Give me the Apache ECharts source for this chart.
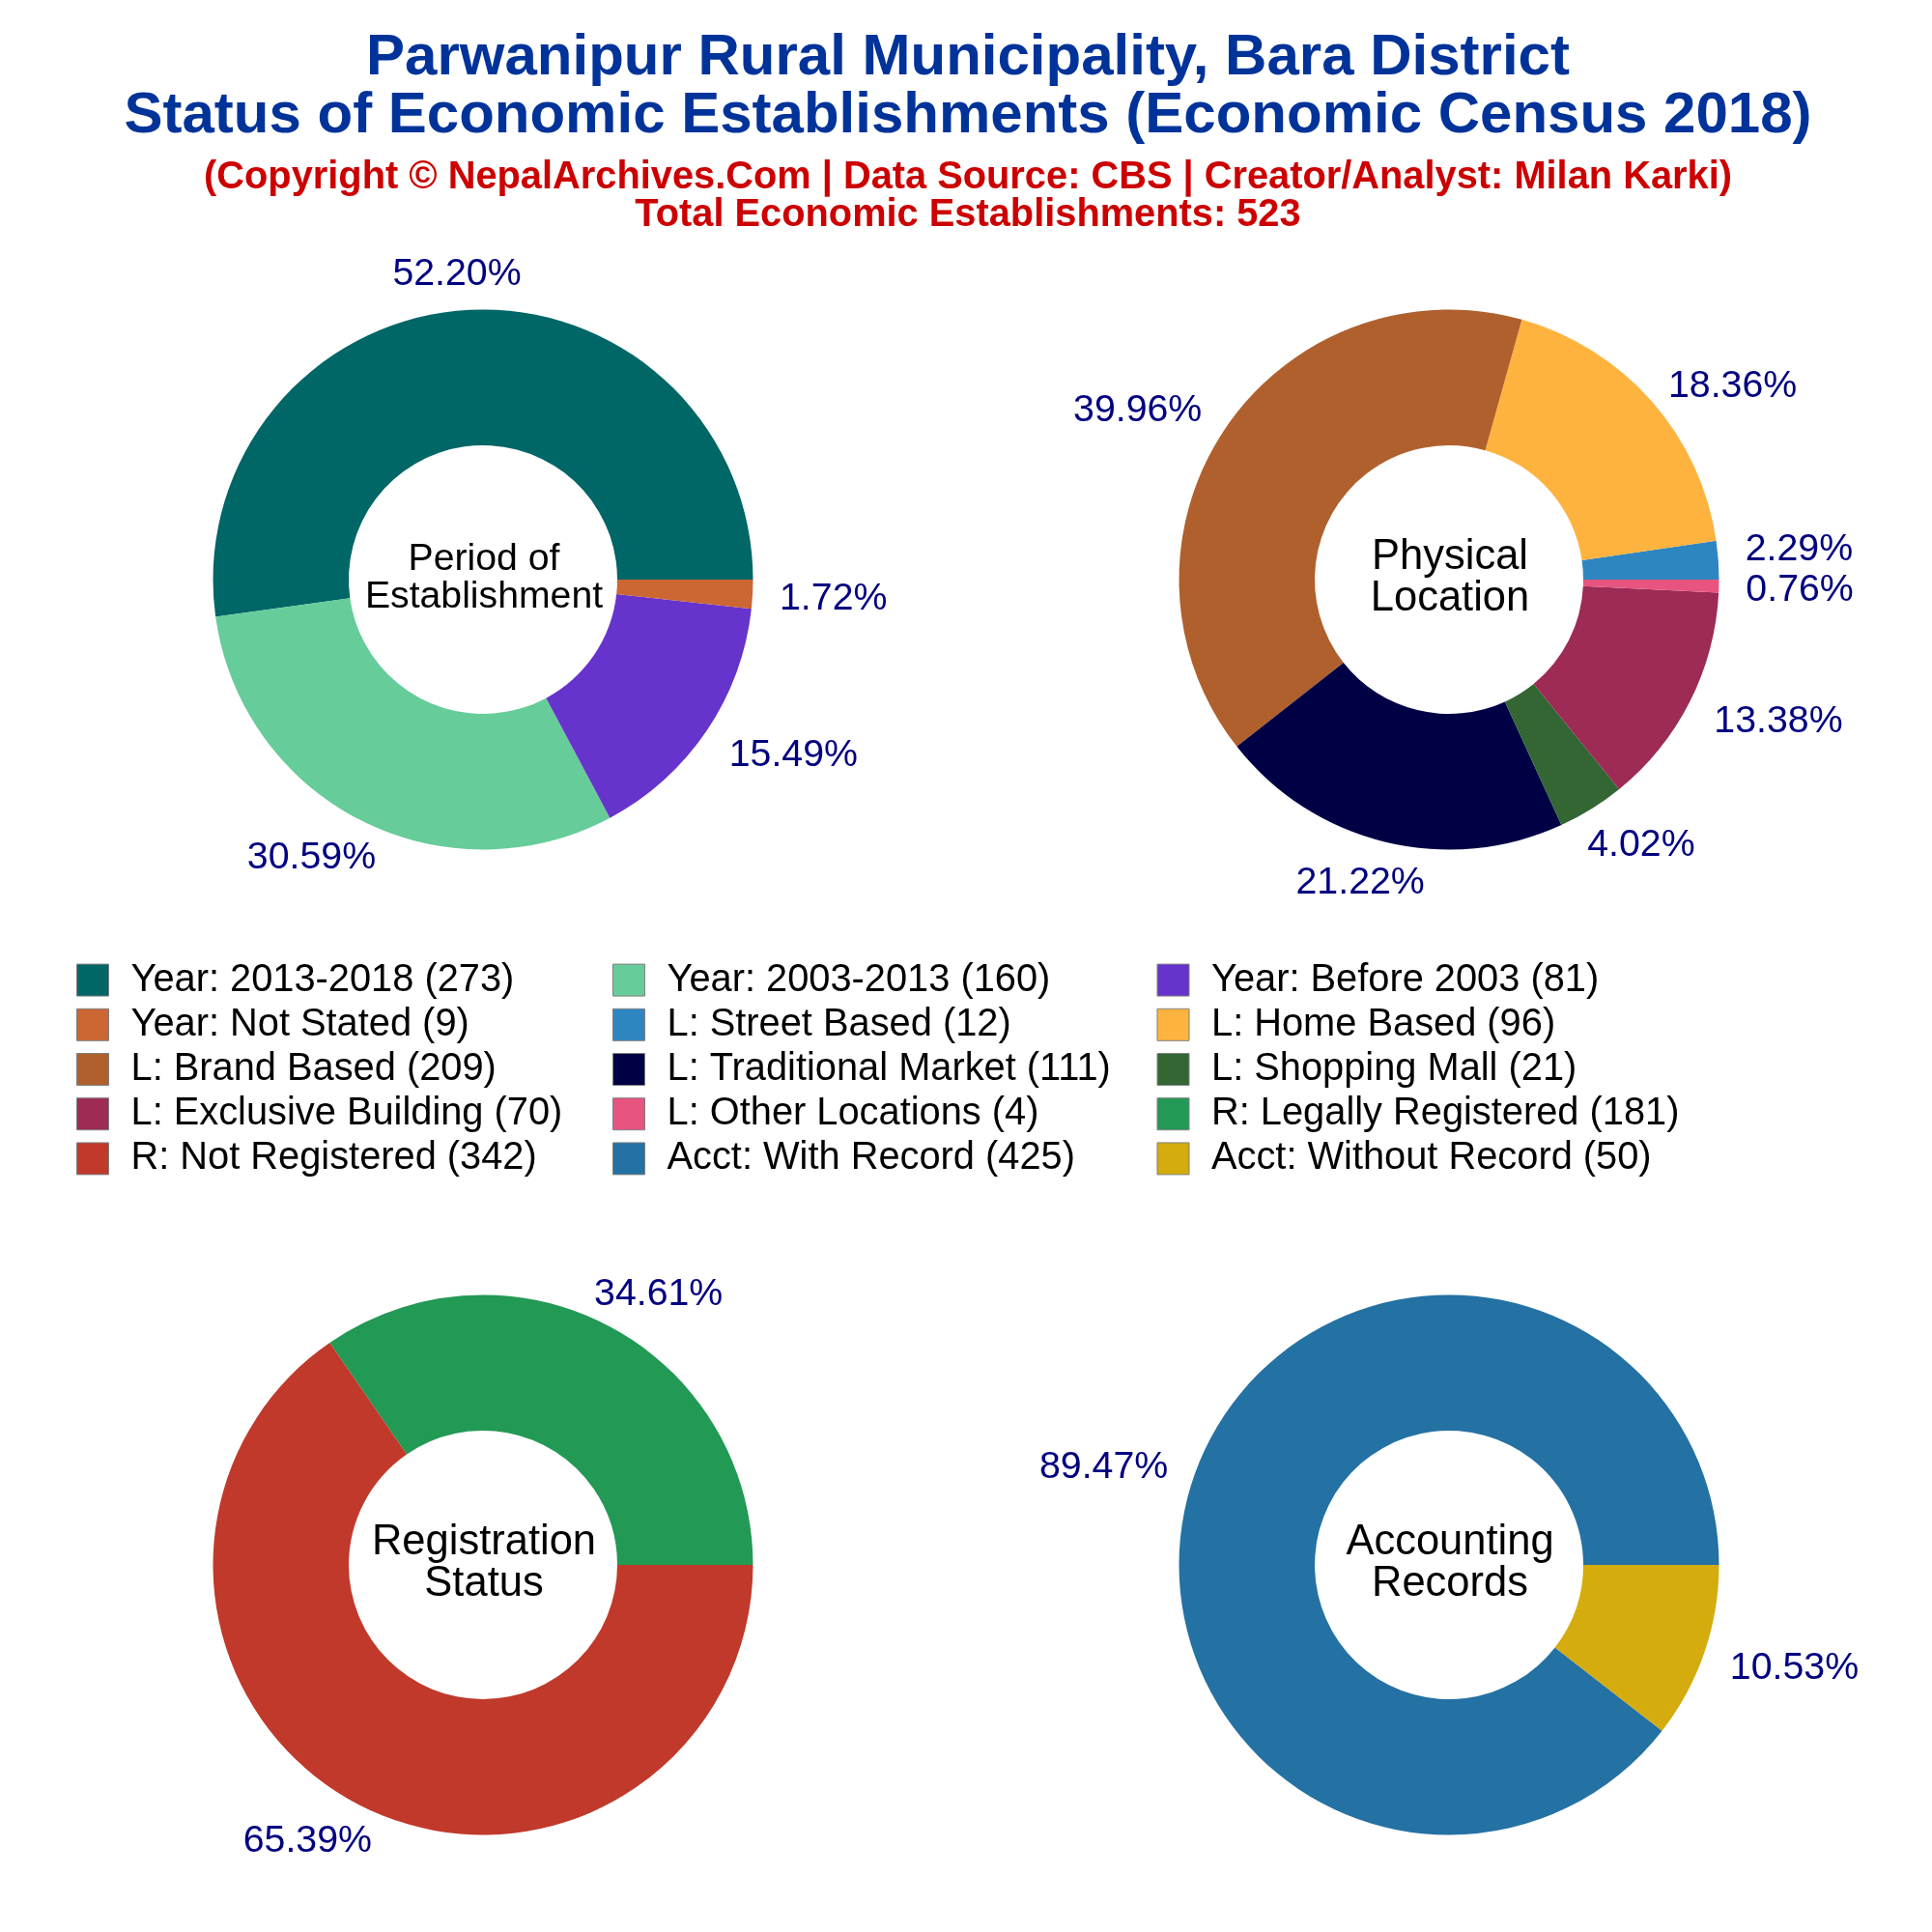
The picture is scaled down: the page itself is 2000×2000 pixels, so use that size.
<!DOCTYPE html>
<html>
<head>
<meta charset="utf-8">
<title>Economic Establishments</title>
<script src="https://cdn.jsdelivr.net/npm/echarts@6/dist/echarts.min.js"></script>
<style>
html,body{margin:0;padding:0;background:#fff;}
#main{width:2000px;height:2000px;}
</style>
</head>
<body>
<div id="main"></div>
<script>
var periodNames = ["Year: 2013-2018","Year: 2003-2013","Year: Before 2003","Year: Not Stated"];
var periodValues = [273,160,81,9];
var periodColors = ["#006666","#66CC99","#6633CC","#CC6633"];

var locationNames = ["L: Street Based","L: Home Based","L: Brand Based","L: Traditional Market","L: Shopping Mall","L: Exclusive Building","L: Other Locations"];
var locationValues = [12,96,209,111,21,70,4];
var locationColors = ["#2E86C1","#FFB33F","#B0602D","#000045","#336633","#9E2A56","#E75480"];

var registerNames = ["R: Legally Registered","R: Not Registered"];
var registerValues = [181,342];
var registerColors = ["#229954","#C0392B"];

var accountNames = ["Acct: With Record","Acct: Without Record"];
var accountValues = [425,50];
var accountColors = ["#2471A3","#D4AC0D"];

var titleText = "Parwanipur Rural Municipality, Bara District\nStatus of Economic Establishments (Economic Census 2018)";
var subText = "(Copyright \u00A9 NepalArchives.Com | Data Source: CBS | Creator/Analyst: Milan Karki)\nTotal Economic Establishments: 523";

var FONT = "Liberation Sans";
var RADIUS = 279.5;
var HOLE = 139;

var groups = [
	{names:periodNames, values:periodValues, colors:periodColors, center:[500,600], text:"Period of\nEstablishment", size:39.2, line:38.5},
	{names:locationNames, values:locationValues, colors:locationColors, center:[1500,600], text:"Physical\nLocation", size:43.5, line:42.5, nudge:{0:-11, 1:8}},
	{names:registerNames, values:registerValues, colors:registerColors, center:[500,1620], text:"Registration\nStatus", size:43.5, line:42.5},
	{names:accountNames, values:accountValues, colors:accountColors, center:[1500,1620], text:"Accounting\nRecords", size:43.5, line:42.5}
];

function total(list){
	var sum = 0;
	for(var i=0; i<list.length; i++){
		sum += list[i];
	}
	return sum;
}

// mid angle of a slice, counted anticlockwise from east
function midAngle(list, index){
	var before = 0;
	for(var i=0; i<index; i++){
		before += list[i];
	}
	return (before + list[index]/2) / total(list) * 2 * Math.PI;
}

function buildSeries(group){
	var sum = total(group.values);
	var data = [];
	for(var i=0; i<group.values.length; i++){
		data.push({
			name: group.names[i] + " (" + group.values[i] + ")",
			value: group.values[i],
			itemStyle: {color: group.colors[i]}
		});
	}
	return {
		type: "pie",
		silent: true,
		animation: false,
		clockwise: false,
		startAngle: 0,
		center: group.center,
		radius: [HOLE, RADIUS],
		avoidLabelOverlap: false,
		minShowLabelAngle: 0,
		data: data,
		label: {
			show: true,
			position: "outside",
			color: "#000080",
			fontFamily: FONT,
			fontSize: 39.3,
			formatter: function(p){
				return (p.value / sum * 100).toFixed(2) + "%";
			}
		},
		labelLine: {show: false},
		// the text box sits just outside the ring, pushed out along the slice's mid angle
		labelLayout: function(p){
			var a = midAngle(group.values, p.dataIndex);
			var c = Math.cos(a);
			var push = Math.max(-1, Math.min(1, c * 1.25)) * p.labelRect.width / 2;
			var nudge = group.nudge && group.nudge[p.dataIndex] || 0;
			return {
				x: group.center[0] + c * RADIUS * 1.1 + push,
				y: group.center[1] - Math.sin(a) * (RADIUS*1.1 + 12.5) + nudge + 3,
				align: "center",
				verticalAlign: "middle"
			};
		}
	};
}

var allNames = [];
var series = [];
var titles = [
	{
		text: titleText,
		left: 1002, top: 30, padding: 0, textAlign: "center",
		textStyle: {fontFamily:FONT, fontSize:60, fontWeight:"bold", color:"#003399", lineHeight:60}
	},
	{
		text: subText,
		left: 1002, top: 165, padding: 0, textAlign: "center",
		textStyle: {fontFamily:FONT, fontSize:39.8, fontWeight:"bold", color:"#CC0000", lineHeight:38.5}
	}
];
for(var g=0; g<groups.length; g++){
	var item = groups[g];
	series.push(buildSeries(item));
	for(var n=0; n<item.names.length; n++){
		allNames.push(item.names[n] + " (" + item.values[n] + ")");
	}
	titles.push({
		text: item.text,
		left: item.center[0] + 1,
		top: item.center[1] - 1.5,
		padding: 0,
		textAlign: "center",
		textVerticalAlign: "middle",
		textStyle: {fontFamily:FONT, fontSize:item.size, fontWeight:"normal", color:"#000", lineHeight:item.line}
	});
}

// legend reads across three columns
var legendLeft = [79,634,1197.5];
var legends = [];
for(var c=0; c<3; c++){
	var col = [];
	for(var k=c; k<allNames.length; k+=3){
		col.push(allNames[k]);
	}
	legends.push({
		data: col,
		orient: "vertical",
		left: legendLeft[c],
		top: 991.5,
		padding: 0,
		itemGap: 0,
		itemWidth: 33,
		itemHeight: 33,
		icon: "rect",
		selectedMode: false,
		itemStyle: {borderColor:"#808080", borderWidth:1},
		textStyle: {fontFamily:FONT, fontSize:39.8, color:"#000", lineHeight:46.2, padding:[0,0,0,18]}
	});
}

var chart = echarts.init(document.getElementById("main"));
chart.setOption({
	backgroundColor: "#fff",
	animation: false,
	title: titles,
	legend: legends,
	series: series
});
</script>
</body>
</html>
